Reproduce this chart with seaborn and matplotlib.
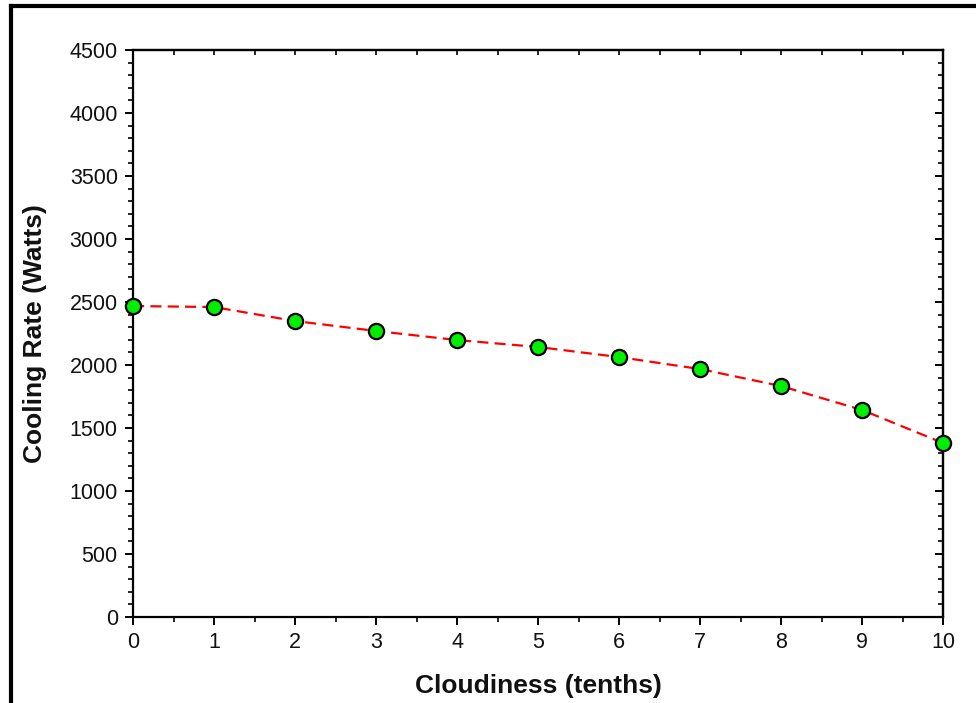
import matplotlib
matplotlib.use("Agg")
import matplotlib.pyplot as plt
import seaborn as sns
import pandas as pd
from matplotlib.ticker import MultipleLocator
from matplotlib.lines import Line2D

cloudiness = [0, 1, 2, 3, 4, 5, 6, 7, 8, 9, 10]
cooling_rate = [2468, 2460, 2349, 2270, 2198, 2143, 2063, 1968, 1833, 1643, 1381]

sns.set_theme(style="white")
plt.rcParams['font.family'] = ['Liberation Sans', 'DejaVu Sans']

df = pd.DataFrame({"Cloudiness": cloudiness, "Cooling": cooling_rate})

fig = plt.figure(figsize=(9.76, 7.03), dpi=100)
ax = fig.add_axes([0.1363, 0.1223, 0.9662 - 0.1363, 0.9289 - 0.1223])

sns.lineplot(data=df, x="Cloudiness", y="Cooling", ax=ax, color="red",
             linestyle=(0, (5, 2.8)), linewidth=1.6, zorder=2, clip_on=False)
sns.scatterplot(data=df, x="Cloudiness", y="Cooling", ax=ax, color="#00ee00",
                edgecolor="black", linewidth=1.6, s=120, zorder=5, clip_on=False)

ax.set_xlim(0, 10)
ax.set_ylim(0, 4500)
ax.xaxis.set_major_locator(MultipleLocator(1))
ax.xaxis.set_minor_locator(MultipleLocator(0.5))
ax.yaxis.set_major_locator(MultipleLocator(500))
ax.yaxis.set_minor_locator(MultipleLocator(100))

for s in ax.spines.values():
    s.set_visible(True)
    s.set_color("black")
    s.set_linewidth(1.6)

ax.tick_params(axis="both", which="major", direction="out", length=6, width=1.4,
               color="black", labelsize=15.5, labelcolor="#111111", pad=5,
               bottom=True, left=True, top=False, right=False)
ax.tick_params(axis="both", which="minor", direction="out", length=3.5, width=1.2,
               color="black", bottom=True, left=True, top=False, right=False)

# top and right inward ticks
secx = ax.secondary_xaxis("top")
secx.xaxis.set_major_locator(MultipleLocator(1))
secx.xaxis.set_minor_locator(MultipleLocator(0.5))
secx.tick_params(which="both", direction="in", length=3.5, width=1.2, labeltop=False, color="black")
secx.spines["top"].set_linewidth(1.6)

secy = ax.secondary_yaxis("right")
secy.yaxis.set_major_locator(MultipleLocator(500))
secy.yaxis.set_minor_locator(MultipleLocator(100))
secy.tick_params(which="major", direction="in", length=6, width=1.4, labelright=False, color="black")
secy.tick_params(which="minor", direction="in", length=3.5, width=1.2, labelright=False, color="black")
secy.spines["right"].set_linewidth(1.6)

ax.set_xlabel("Cloudiness (tenths)", fontsize=19, fontweight="bold", labelpad=15, color="#111111")
ax.set_ylabel("Cooling Rate (Watts)", fontsize=19, fontweight="bold", labelpad=16, color="#111111")

# partial figure frame (left and top)
fig.add_artist(Line2D([11 / 976, 11 / 976], [0, 1 - 6 / 703], transform=fig.transFigure,
                      color="black", linewidth=3, solid_capstyle="projecting"))
fig.add_artist(Line2D([11 / 976, 1], [1 - 6 / 703, 1 - 6 / 703], transform=fig.transFigure,
                      color="black", linewidth=3, solid_capstyle="projecting"))

fig.savefig("out.png", dpi=100)
